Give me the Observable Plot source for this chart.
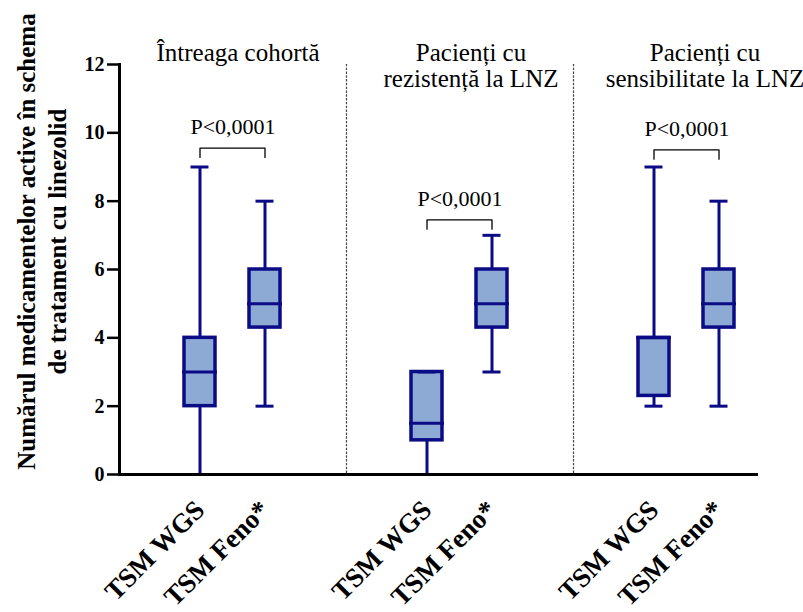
<!DOCTYPE html>
<html><head><meta charset="utf-8">
<script src="https://cdn.jsdelivr.net/npm/d3@7"></script>
<script src="https://cdn.jsdelivr.net/npm/@observablehq/plot@0.6"></script>
<style>body{margin:0;background:#fff} svg text{font-family:'Liberation Serif','Times New Roman',serif}</style>
</head><body><div id="chart"></div>
<script>
const groups = ["Întreaga cohortă", "Pacienți cu\nrezistență la LNZ", "Pacienți cu\nsensibilitate la LNZ"];
const methods = ["TSM WGS", "TSM Feno*"];
// per group: [WGS, Feno]
const minV = [0, 2, 0, 3, 2, 2];
const q1V  = [2, 4.3, 1, 4.3, 2.3, 4.3];
const medV = [3, 5, 1.5, 5, 4, 5];
const q3V  = [4, 6, 3, 6, 4, 6];
const maxV = [9, 8, 3, 7, 9, 8];
const pLabels = ["P<0,0001", "P<0,0001", "P<0,0001"];
const bracketY = [9.55, 7.45, 9.5];
const yTicks = [0, 2, 4, 6, 8, 10, 12];
const yLabel = "Numărul medicamentelor active în schema\nde tratament cu linezolid";

const navy = "#0b0b86";
const boxFill = "#8caad3";
const legLen = 0.27;
const serif = "'Liberation Serif', 'Times New Roman', serif";
const titleShift = [5, 11, 18];

const rows = [];
groups.forEach((g, gi) => methods.forEach((m, mi) => {
  const i = gi * 2 + mi;
  rows.push({group: g, method: m, min: minV[i], q1: q1V[i], med: medV[i], q3: q3V[i], max: maxV[i]});
}));
const brackets = groups.map((g, i) => ({group: g, y: bracketY[i], label: pLabels[i]}));
const bracketPts = brackets.flatMap(b => [
  {group: b.group, method: methods[0], y: b.y - legLen},
  {group: b.group, method: methods[0], y: b.y},
  {group: b.group, method: methods[1], y: b.y},
  {group: b.group, method: methods[1], y: b.y - legLen}
]);

const chart = Plot.plot({
  width: 803, height: 612,
  marginTop: 64, marginBottom: 138, marginLeft: 119, marginRight: 3,
  style: `font-family: ${serif}; background: white; color: black; overflow: visible;`,
  fx: {domain: groups, padding: 0, axis: null},
  x: {domain: methods, paddingInner: 0.52, paddingOuter: 1.0},
  y: {domain: [0, 12]},
  marks: [
    Plot.frame({anchor: "left", stroke: "#444", strokeDasharray: "1.2,2.6", strokeWidth: 1.2}),
    Plot.frame({anchor: "left", fx: () => groups[0], stroke: "black", strokeWidth: 3}),
    Plot.ruleX(rows, {fx: "group", x: "method", y1: "min", y2: "max", stroke: navy, strokeWidth: 3}),
    Plot.barY(rows, {fx: "group", x: "method", y1: "q1", y2: "q3", fill: boxFill, stroke: navy, strokeWidth: 3.5}),
    Plot.tickY(rows, {fx: "group", x: "method", y: "min", insetLeft: 6.5, insetRight: 6.5, stroke: navy, strokeWidth: 3}),
    Plot.tickY(rows, {fx: "group", x: "method", y: "max", insetLeft: 6.5, insetRight: 6.5, stroke: navy, strokeWidth: 3}),
    Plot.tickY(rows, {fx: "group", x: "method", y: "med", insetLeft: -2, insetRight: -2, stroke: navy, strokeWidth: 3}),
    Plot.line(bracketPts, {fx: "group", x: "method", y: "y", z: "group", stroke: "black", strokeWidth: 1.3}),
    Plot.text(brackets, {fx: "group", y: "y", text: "label", frameAnchor: "middle", dy: -21, fontSize: 22, fill: "black", fontFamily: serif}),
    ...groups.map((g, i) => Plot.text([g], {fx: d => d, text: d => d, frameAnchor: "top", lineAnchor: "top", dx: titleShift[i], dy: -22, fontSize: 25, lineHeight: 1.05, fill: "black", fontFamily: serif})),
    Plot.axisY({ticks: yTicks, tickSize: 12, tickPadding: 3, fontSize: 20, fontWeight: "bold", strokeWidth: 2.5, fontFamily: serif, label: null}),
    Plot.axisX({tickSize: 0, tickRotate: -45, tickPadding: 31, fontSize: 27, fontWeight: "bold", label: null, fontFamily: serif}),
    Plot.ruleY(groups.slice(0, 2), {fx: d => d, y: () => 0, stroke: "black", strokeWidth: 3}),
    Plot.ruleY(groups.slice(2), {fx: d => d, y: () => 0, insetRight: 42, stroke: "black", strokeWidth: 3}),
    Plot.text([groups[0]], {fx: d => d, text: () => yLabel, frameAnchor: "left", textAnchor: "middle", lineAnchor: "middle", rotate: -90, dx: -79, dy: -28, fontSize: 25, fontWeight: "bold", lineHeight: 1.22, fill: "black", fontFamily: serif})
  ]
});
document.getElementById("chart").appendChild(chart);
</script>
</body></html>
